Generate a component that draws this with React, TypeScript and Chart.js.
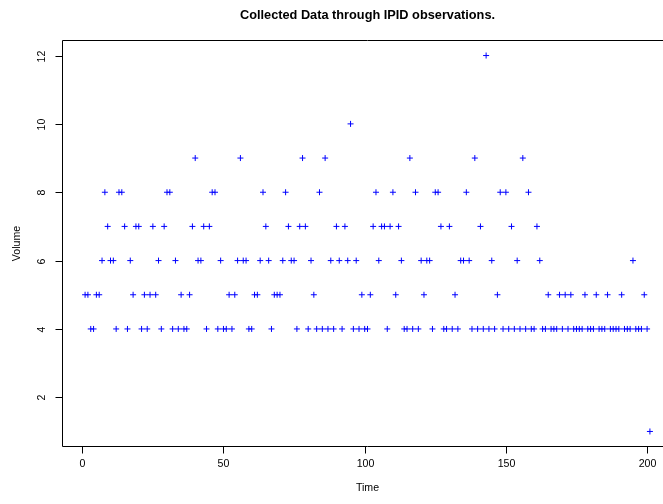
import React, { useEffect, useRef } from "react";
import { Chart, registerables } from "chart.js";

Chart.register(...registerables);

const chartTitle = "Collected Data through IPID observations.";
const xTitle = "Time";
const yTitle = "Volume";

const times = [
  1, 2, 3, 4, 5, 6, 7, 8, 9, 10, 11, 12, 13, 14, 15, 16, 17, 18, 19, 20,
  21, 22, 23, 24, 25, 26, 27, 28, 29, 30, 31, 32, 33, 34, 35, 36, 37, 38, 39, 40,
  41, 42, 43, 44, 45, 46, 47, 48, 49, 50, 51, 52, 53, 54, 55, 56, 57, 58, 59, 60,
  61, 62, 63, 64, 65, 66, 67, 68, 69, 70, 71, 72, 73, 74, 75, 76, 77, 78, 79, 80,
  81, 82, 83, 84, 85, 86, 87, 88, 89, 90, 91, 92, 93, 94, 95, 96, 97, 98, 99, 100,
  101, 102, 103, 104, 105, 106, 107, 108, 109, 110, 111, 112, 113, 114, 115, 116, 117, 118, 119, 120,
  121, 122, 123, 124, 125, 126, 127, 128, 129, 130, 131, 132, 133, 134, 135, 136, 137, 138, 139, 140,
  141, 142, 143, 144, 145, 146, 147, 148, 149, 150, 151, 152, 153, 154, 155, 156, 157, 158, 159, 160,
  161, 162, 163, 164, 165, 166, 167, 168, 169, 170, 171, 172, 173, 174, 175, 176, 177, 178, 179, 180,
  181, 182, 183, 184, 185, 186, 187, 188, 189, 190, 191, 192, 193, 194, 195, 196, 197, 198, 199, 200,
  201,
];

const volumes = [
  5, 5, 4, 4, 5, 5, 6, 8, 7, 6, 6, 4, 8, 8, 7, 4, 6, 5, 7, 7,
  4, 5, 4, 5, 7, 5, 6, 4, 7, 8, 8, 4, 6, 4, 5, 4, 4, 5, 7, 9,
  6, 6, 7, 4, 7, 8, 8, 4, 6, 4, 4, 5, 4, 5, 6, 9, 6, 6, 4, 4,
  5, 5, 6, 8, 7, 6, 4, 5, 5, 5, 6, 8, 7, 6, 6, 4, 7, 9, 7, 4,
  6, 5, 4, 8, 4, 9, 4, 6, 4, 7, 6, 4, 7, 6, 10, 4, 6, 4, 5, 4,
  4, 5, 7, 8, 6, 7, 7, 4, 7, 8, 5, 7, 6, 4, 4, 9, 4, 8, 4, 6,
  5, 6, 6, 4, 8, 8, 7, 4, 4, 7, 4, 5, 4, 6, 6, 8, 6, 4, 9, 4,
  7, 4, 12, 4, 6, 4, 5, 8, 4, 8, 4, 7, 4, 6, 4, 9, 4, 8, 4, 4,
  7, 6, 4, 4, 5, 4, 4, 4, 5, 4, 5, 4, 5, 4, 4, 4, 4, 5, 4, 4,
  4, 5, 4, 4, 4, 5, 4, 4, 4, 4, 5, 4, 4, 4, 6, 4, 4, 4, 5, 4,
  1,
];

const xTicks = [0, 50, 100, 150, 200];
const yTicks = [2, 4, 6, 8, 10, 12];

const FONT = "'Liberation Sans', Arial, Helvetica, sans-serif";

const rAxesPlugin = {
  id: "rAxes",
  afterDraw(chart: any) {
    const ctx = chart.ctx as CanvasRenderingContext2D;
    const area = chart.chartArea;
    const xs = chart.scales.x;
    const ys = chart.scales.y;
    ctx.save();
    ctx.strokeStyle = "#000";
    ctx.lineWidth = 1;
    // plot box (its right side lies beyond the visible page)
    ctx.beginPath();
    ctx.moveTo(area.right, area.top);
    ctx.lineTo(area.left, area.top);
    ctx.lineTo(area.left, area.bottom);
    ctx.lineTo(area.right, area.bottom);
    ctx.stroke();

    ctx.fillStyle = "#000";
    ctx.font = `10.6px ${FONT}`;

    ctx.textAlign = "center";
    ctx.textBaseline = "middle";
    for (const v of xTicks) {
      const px = Math.round(xs.getPixelForValue(v)) + 0.5;
      ctx.beginPath();
      ctx.moveTo(px, area.bottom);
      ctx.lineTo(px, area.bottom + 7);
      ctx.stroke();
      ctx.fillText(String(v), px, 464);
    }
    for (const v of yTicks) {
      const py = Math.round(ys.getPixelForValue(v)) + 0.5;
      ctx.beginPath();
      ctx.moveTo(area.left, py);
      ctx.lineTo(area.left - 7, py);
      ctx.stroke();
      ctx.save();
      ctx.translate(42.5, py);
      ctx.rotate(-Math.PI / 2);
      ctx.fillText(String(v), 0, 0);
      ctx.restore();
    }
    ctx.fillText(xTitle, (area.left + area.right) / 2, 488.5);
    ctx.save();
    ctx.translate(17, (area.top + area.bottom) / 2);
    ctx.rotate(-Math.PI / 2);
    ctx.fillText(yTitle, 0, 0);
    ctx.restore();

    ctx.font = `bold 12.75px ${FONT}`;
    ctx.fillText(chartTitle, (area.left + area.right) / 2, 15);
    ctx.restore();
  },
};

export default function App() {
  const ref = useRef<HTMLCanvasElement | null>(null);
  useEffect(() => {
    if (!ref.current) return;
    const data = times.map((t, i) => ({ x: t, y: volumes[i] }));
    const chart = new Chart(ref.current, {
      type: "scatter",
      data: {
        datasets: [
          {
            label: "Volume",
            data,
            pointStyle: "cross",
            pointRadius: 3,
            pointHoverRadius: 3,
            borderColor: "#0000ff",
            backgroundColor: "#0000ff",
            borderWidth: 1,
          },
        ],
      },
      options: {
        animation: false,
        responsive: false,
        maintainAspectRatio: false,
        devicePixelRatio: 1,
        events: [],
        layout: { padding: { left: 62.5, top: 40.5, right: 27.5, bottom: 57.5 } },
        scales: {
          x: { type: "linear", min: -7, max: 209, display: false },
          y: { type: "linear", min: 0.56, max: 12.44, display: false },
        },
        plugins: {
          legend: { display: false },
          tooltip: { enabled: false },
          title: { display: false },
        },
      },
      plugins: [rAxesPlugin],
    });
    return () => chart.destroy();
  }, []);
  return (
    <div
      style={{
        position: "absolute",
        left: 0,
        top: 0,
        width: 663,
        height: 504,
        overflow: "hidden",
        background: "#fff",
      }}
    >
      <canvas ref={ref} width={700} height={504} style={{ width: 700, height: 504, display: "block" }} />
    </div>
  );
}
